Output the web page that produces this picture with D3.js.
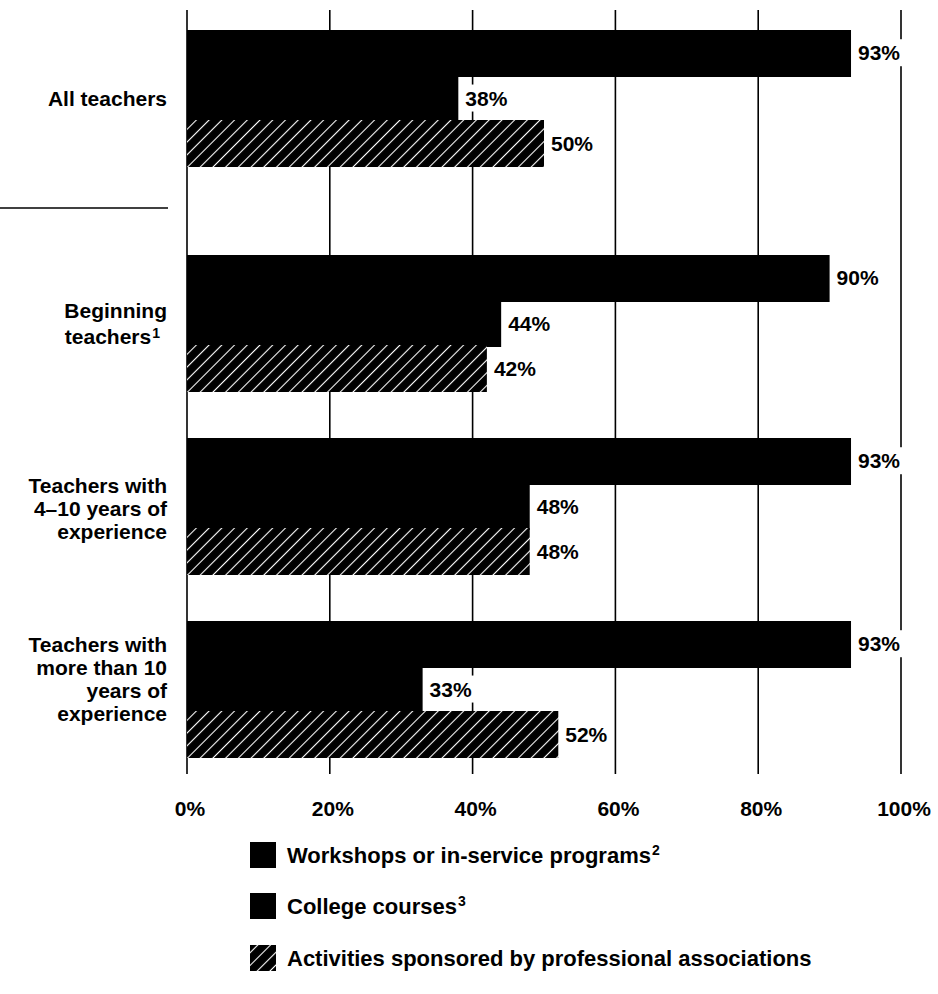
<!DOCTYPE html>
<html>
<head>
<meta charset="utf-8">
<script src="https://cdn.jsdelivr.net/npm/d3@7"></script>
<style>
  html, body { margin: 0; padding: 0; background: #fff; }
  svg { display: block; }
  text { font-family: "Liberation Sans", Arial, Helvetica, sans-serif; font-weight: bold; fill: #000; }
</style>
</head>
<body>
<svg id="chart" width="938" height="994"></svg>
<script>
// ---- data ----
const categories = ["All teachers", "Beginning teachers", "Teachers with 4–10 years of experience", "Teachers with more than 10 years of experience"];
const categoryLines = [
  [["All teachers", ""]],
  [["Beginning", ""], ["teachers", "1"]],
  [["Teachers with", ""], ["4–10 years of", ""], ["experience", ""]],
  [["Teachers with", ""], ["more than 10", ""], ["years of", ""], ["experience", ""]]
];
const seriesNames = ["Workshops or in-service programs", "College courses", "Activities sponsored by professional associations"];
const seriesNotes = ["2", "3", ""];
const workshops = [93, 90, 93, 93];
const college = [38, 44, 48, 33];
const associations = [50, 42, 48, 52];
const tickValues = [0, 20, 40, 60, 80, 100];

const seriesValues = [workshops, college, associations];

// ---- layout ----
const svg = d3.select("#chart");
const defs = svg.append("defs");
const hatch = defs.append("pattern")
  .attr("id", "hatch").attr("patternUnits", "userSpaceOnUse")
  .attr("width", 9).attr("height", 9)
  .attr("patternTransform", "rotate(45)");
hatch.append("rect").attr("width", 9).attr("height", 9).attr("fill", "#000");
hatch.append("line").attr("x1", 4.5).attr("y1", 0).attr("x2", 4.5).attr("y2", 9)
  .attr("stroke", "#fff").attr("stroke-width", 1.1);

const x = d3.scaleLinear().domain([0, 100]).range([187, 901]);

const step = 183;
const y = d3.scaleBand().domain(categories)
  .range([48.5, 48.5 + 4 * step]).paddingInner(0.257).paddingOuter(0.1285);
const firstShift = -42;
const groupTop = (c, i) => Math.round(y(c) + (i === 0 ? firstShift : 0));
const ySub = d3.scaleBand().domain(d3.range(3)).range([0, y.bandwidth()]).padding(0);

const gridTop = 10, gridBottom = 774;

// gridlines
svg.append("g").selectAll("line").data(tickValues).join("line")
  .attr("x1", d => x(d)).attr("x2", d => x(d))
  .attr("y1", gridTop).attr("y2", gridBottom)
  .attr("stroke", "#000").attr("stroke-width", 1.6);

// separator under first group
svg.append("line").attr("x1", 0).attr("x2", 168).attr("y1", 208).attr("y2", 208)
  .attr("stroke", "#000").attr("stroke-width", 1.6);

// bars
const fills = ["#000", "#000", "url(#hatch)"];
categories.forEach((c, i) => {
  const g = svg.append("g").attr("transform", `translate(0,${groupTop(c, i)})`);
  seriesValues.forEach((vals, s) => {
    g.append("rect")
      .attr("x", x(0)).attr("y", Math.floor(ySub(s)))
      .attr("width", x(vals[i]) - x(0)).attr("height", Math.ceil(ySub.bandwidth()) + 1)
      .attr("fill", fills[s]);
  });
  seriesValues.forEach((vals, s) => {
    const t = g.append("text")
      .attr("x", x(vals[i]) + 7).attr("y", ySub(s) + ySub.bandwidth() / 2)
      .attr("dy", "0.36em").attr("font-size", 21)
      .text(vals[i] + "%");
    const bb = t.node().getBBox();
    g.insert("rect", "text")
      .attr("x", bb.x - 3).attr("y", bb.y - 2).attr("width", bb.width + 6).attr("height", bb.height + 4)
      .attr("fill", "#fff");
  });
  // category label
  const lines = categoryLines[i];
  const lh = i === 1 ? 26 : 23;
  const cy = groupTop(c, i) + y.bandwidth() / 2 + (i === 2 ? 2 : 0) + (i === 3 ? -10 : 0);
  const t = svg.append("text").attr("text-anchor", "end").attr("font-size", 21);
  lines.forEach((ln, k) => {
    const yy = cy + (k - (lines.length - 1) / 2) * lh;
    t.append("tspan").attr("x", ln[1] ? 160 : 167).attr("y", yy).attr("dy", "0.36em").text(ln[0]);
    if (ln[1]) {
      t.append("tspan").attr("font-size", 14).attr("dy", "-0.4em").attr("dx", 1).text(ln[1]);
    }
  });
});

// x tick labels
svg.append("g").selectAll("text").data(tickValues).join("text")
  .attr("x", d => x(d) + 3).attr("y", 816)
  .attr("text-anchor", "middle").attr("font-size", 21)
  .text(d => d + "%");

// legend
const legendY = [855, 906, 958];
const legendFills = ["#000", "#000", "url(#hatch)"];
seriesNames.forEach((n, s) => {
  svg.append("rect").attr("x", 250).attr("y", legendY[s] - 13).attr("width", 26).attr("height", 26)
    .attr("fill", legendFills[s]);
  const t = svg.append("text").attr("x", 287).attr("y", legendY[s]).attr("dy", "0.36em")
    .attr("font-size", 22);
  t.append("tspan").text(n);
  if (seriesNotes[s]) {
    t.append("tspan").attr("font-size", 14).attr("dy", "-0.6em").attr("dx", 1).text(seriesNotes[s]);
  }
});
</script>
</body>
</html>
